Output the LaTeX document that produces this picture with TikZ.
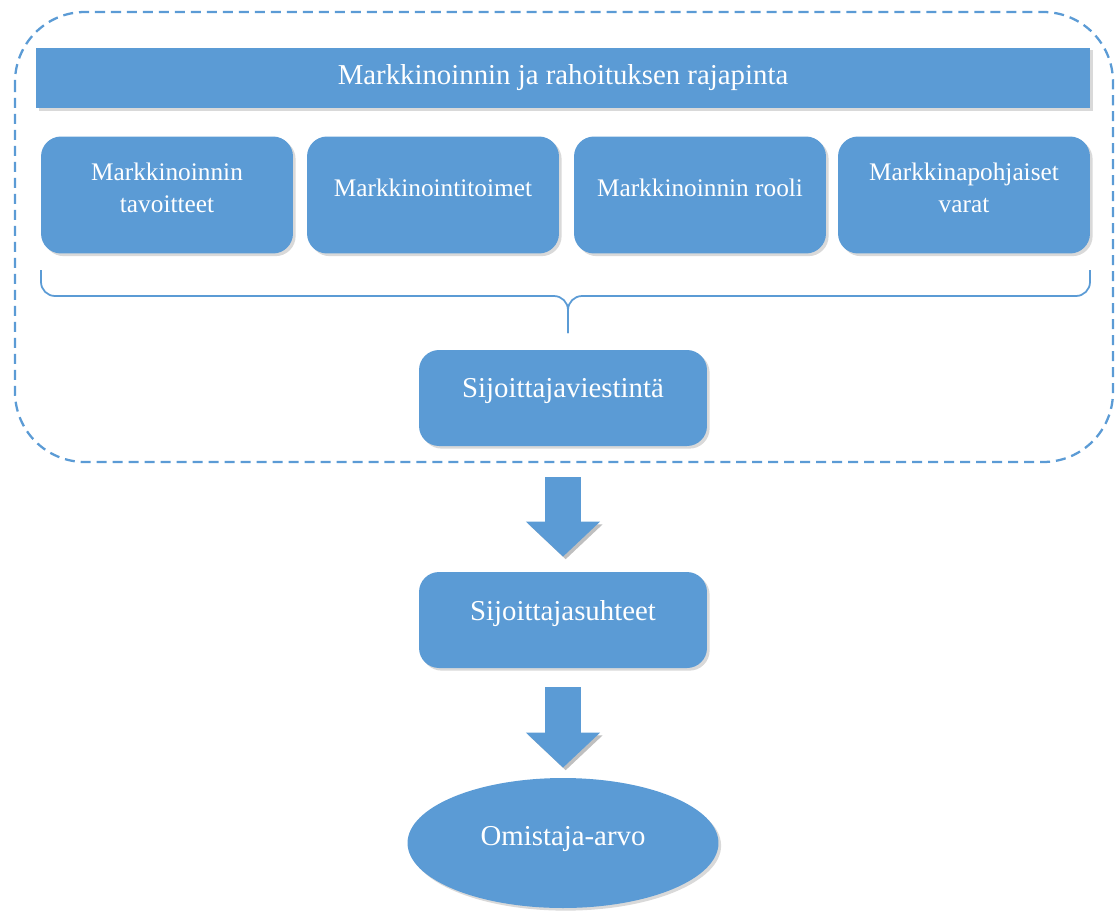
\documentclass[tikz,border=0pt]{standalone}
\usepackage{fontspec}
\setmainfont{Liberation Serif}
\usepackage{xcolor}
\definecolor{officeblue}{RGB}{91,155,213}
\usetikzlibrary{shapes.geometric,shadows,arrows.meta}

\begin{document}
\begin{tikzpicture}[x=0.02cm,y=-0.02cm,
    every node/.style={inner sep=0pt,text=white,align=center},
    softshadow/.style={drop shadow={opacity=0.3,shadow xshift=1.5pt,shadow yshift=-1.5pt}},
    bluebar/.style={fill=officeblue,minimum width=21.08cm,minimum height=1.22cm,softshadow,font=\fontsize{16.4}{20}\selectfont},
    smallbox/.style={fill=officeblue,rounded corners=0.4cm,minimum width=5.04cm,minimum height=2.34cm,softshadow,font=\fontsize{14.4}{18}\selectfont,text depth=0.3cm},
    bigbox/.style={fill=officeblue,rounded corners=0.4cm,minimum width=5.76cm,minimum height=1.92cm,softshadow,font=\fontsize{16.4}{20}\selectfont,text depth=0.4cm},
    oval/.style={ellipse,fill=officeblue,minimum width=6.22cm,minimum height=2.6cm,softshadow,font=\fontsize{16.4}{20}\selectfont,text depth=0.3cm},
    bigarrow/.style={draw=officeblue,line width=0.72cm,-{Triangle[width=1.44cm,length=0.7cm]},
        preaction={draw=black!25,transform canvas={xshift=1.5pt,yshift=-1.5pt}}},
    bracelines/.style={draw=officeblue,line width=1pt,rounded corners=8pt},
    dashframe/.style={draw=officeblue,line width=1.3pt,dash pattern=on 5.7pt off 3.4pt,rounded corners=1.4cm}]

        \useasboundingbox (0,0) rectangle (1115,910);

        \draw[dashframe] (15,12) rectangle (1113,462);

        \node[bluebar] (bar) at (563,78) {Markkinoinnin ja rahoituksen rajapinta};

        \foreach \x/\txt [count=\i] in {167/{Markkinoinnin\\tavoitteet},433/Markkinointitoimet,700/Markkinoinnin rooli,964/{Markkinapohjaiset\\varat}}{
            \node[smallbox] (m\i) at (\x,195) {\txt};
        }

        \draw[bracelines] (41,270) -- (41,296) -- (568,296) -- (568,333); % left half
        \draw[bracelines] (1090,270) -- (1090,296) -- (568,296) -- (568,333); % right half

        \node[bigbox] (viesti) at (563,398) {Sijoittajaviestintä};
        \node[bigbox] (suhteet) at (563,620) {Sijoittajasuhteet};
        \node[oval] (arvo) at (563,843) {Omistaja-arvo};

        \draw[bigarrow,shorten <=0.62cm,shorten >=0.3cm] (viesti) -- (suhteet);
        \draw[bigarrow,shorten <=0.38cm,shorten >=0.2cm] (suhteet) -- (arvo);

    \end{tikzpicture}
\end{document}
